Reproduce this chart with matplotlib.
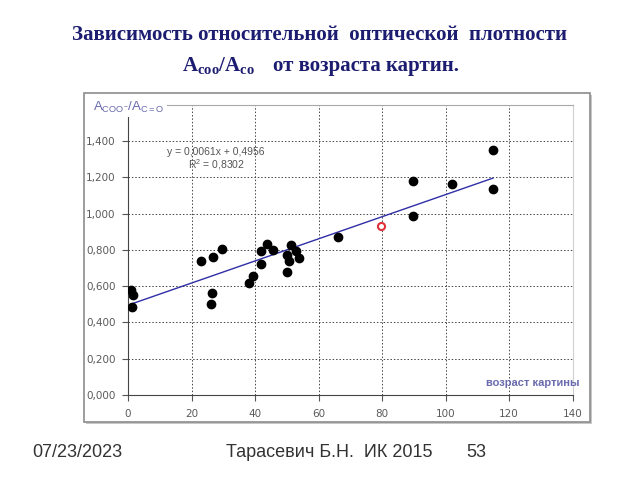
import matplotlib
matplotlib.use('Agg')
import matplotlib.pyplot as plt
from matplotlib.patches import Rectangle
import numpy as np

# возраст картины (лет) и отношение A_COO-/A_C=O
age = [0.95, 1.6, 1.4, 22.9, 26.7, 29.7, 26.3, 26.0, 38.0, 39.4, 41.8, 41.8, 43.9,
       45.6, 50.2, 50.6, 50.2, 51.2, 52.8, 53.7, 66.1, 89.7, 89.7, 101.9, 114.9, 114.9]
ratio = [0.580, 0.549, 0.488, 0.740, 0.759, 0.805, 0.562, 0.504, 0.619, 0.654, 0.724,
         0.797, 0.834, 0.799, 0.676, 0.737, 0.773, 0.829, 0.797, 0.755, 0.873, 0.985,
         1.178, 1.164, 1.134, 1.352]
# выделенная картина (красная точка)
test_age = [79.8]
test_ratio = [0.932]

slope, intercept, r2 = 0.0061, 0.4956, 0.8302
xticks = [0, 20, 40, 60, 80, 100, 120, 140]
yticks = [0.0, 0.2, 0.4, 0.6, 0.8, 1.0, 1.2, 1.4]

plt.rcParams['mathtext.fontset'] = 'custom'
plt.rcParams['mathtext.rm'] = 'Liberation Serif'
plt.rcParams['mathtext.bf'] = 'Liberation Serif:bold'
plt.rcParams['mathtext.sf'] = 'Liberation Sans'

navy = '#1c1c70'
label_col = '#6a6aae'
tick_col = '#5a5a5a'

fig = plt.figure(figsize=(6.4, 4.8), dpi=100)

# рамка диаграммы
fig.patches.append(Rectangle((0.134, 0.117), 0.7906, 0.685, transform=fig.transFigure,
                             facecolor='#c8c8c8', edgecolor='none', zorder=-2))
fig.patches.append(Rectangle((0.131, 0.121), 0.7906, 0.685, transform=fig.transFigure,
                             facecolor='white', edgecolor='#8c8c8c', linewidth=1.2, zorder=-1))

ax = fig.add_axes([0.2, 0.1771, 0.6948, 0.6042])
ax.set_facecolor('none')
ax.set_xlim(0, 140)
ax.set_ylim(0, 1.6)

ax.scatter(age, ratio, s=36, color='black', zorder=3)
ax.scatter(test_age, test_ratio, s=26, facecolor='white', edgecolor='#e0303a',
           linewidth=1.5, zorder=3)

tx = np.array([min(age), max(age)])
ax.plot(tx, slope * tx + intercept, color='#2e2ea6', linewidth=1.0, zorder=2)

ax.set_xticks(xticks)
ax.set_yticks(yticks)
ax.set_xticklabels([str(t) for t in xticks])
ax.set_yticklabels([f'{t:.3f}'.replace('.', ',') for t in yticks])
ax.tick_params(axis='both', colors='#555555', labelcolor=tick_col, labelsize=7.5,
               direction='out', length=4, width=0.8)
ax.tick_params(axis='y', pad=5)
ax.tick_params(axis='x', pad=6)

for gx in xticks[1:-1]:
    ax.axvline(gx, color='#444444', linestyle=(0, (1.5, 2)), linewidth=0.7, zorder=1)
for gy in yticks[1:]:
    ax.axhline(gy, color='#444444', linestyle=(0, (1.5, 2)), linewidth=0.7, zorder=1)

ax.spines['left'].set_color('#444444')
ax.spines['bottom'].set_color('#444444')
ax.spines['top'].set_color('#a8a8a8')
ax.spines['right'].set_color('#d0d0d0')

ax.text(0.088, 0.838, 'y = 0,0061x + 0,4956', transform=ax.transAxes,
        fontsize=7.5, color='#555555', family='Liberation Sans', va='center')
ax.text(0.135, 0.793, r'R$^{\mathsf{2}}$ = 0,8302', transform=ax.transAxes,
        fontsize=7.5, color='#555555', family='Liberation Sans', va='center')

ax.text(1.016, 0.04, 'возраст картины', transform=ax.transAxes, ha='right', va='center',
        fontsize=8, fontweight='bold', color=label_col, family='Liberation Sans')

fig.text(0.146, 0.777, r'$\mathsf{A_{COO^{-}}/A_{C=O}}$', fontsize=9.5, color=label_col,
         va='center', ha='left',
         bbox=dict(facecolor='white', edgecolor='none', pad=1.5))

fig.text(0.5, 0.917, 'Зависимость относительной  оптической  плотности',
         ha='center', va='baseline', fontsize=15, fontweight='bold',
         family='Liberation Serif', color=navy)
fig.text(0.285, 0.852, r'$\mathbf{A_{coo}/A_{co}}$', ha='left', va='baseline',
         fontsize=15, color=navy)
fig.text(0.427, 0.852, 'от возраста картин.', ha='left', va='baseline', fontsize=15,
         fontweight='bold', family='Liberation Serif', color=navy)

fig.text(0.05, 0.058, '07/23/2023', fontsize=13, family='Liberation Sans',
         color='#333333', va='center')
fig.text(0.353, 0.058, 'Тарасевич Б.Н.  ИК 2015', fontsize=13, family='Liberation Sans',
         color='#333333', va='center')
fig.text(0.728, 0.058, '53', fontsize=13, family='Liberation Sans',
         color='#333333', va='center')

fig.savefig('out.png', dpi=100, facecolor='white')
